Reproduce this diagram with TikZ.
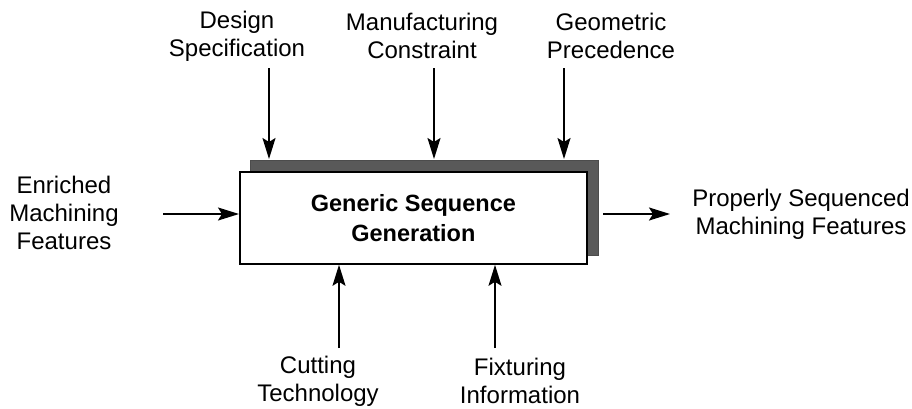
\documentclass[tikz,border=0pt]{standalone}
\usepackage{fontspec}
\setmainfont{Liberation Sans}
\usetikzlibrary{arrows.meta}
\begin{document}
\begin{tikzpicture}[x=1pt,y=-1pt,
  lbl/.style={align=center,font=\fontsize{24}{28}\selectfont,inner sep=0pt},
  arr/.style={-{Stealth[length=21pt,width=13pt,inset=4pt]},line width=1.8pt},
  box/.style={draw,line width=1.8pt,fill=white,minimum width=347pt,minimum height=92pt,inner sep=0pt},
  shadow/.style={fill=black!65,draw=black!70,line width=0.5pt}]
\useasboundingbox (0,0) rectangle (912,408);
\fill[shadow] (250,160) rectangle (598,255);
\node[box,anchor=north west,font=\bfseries\fontsize{23.5}{30}\selectfont,align=center] (g) at (239,171) {Generic Sequence\\Generation};
\node[lbl] (ds) at (237,36) {Design\\Specification};
\node[lbl] (mc) at (422,36) {Manufacturing\\Constraint};
\node[lbl] (gp) at (611,36) {Geometric\\Precedence};
\node[lbl] (em) at (64,213) {Enriched\\Machining\\Features};
\node[lbl] (ps) at (801,214) {Properly Sequenced\\Machining Features};
\node[lbl] (ct) at (318,381) {Cutting\\Technology};
\node[lbl] (fi) at (520,381) {Fixturing\\Information};
\coordinate (t1) at (269,68); \coordinate (t1e) at (269,159);
\coordinate (t2) at (434,68); \coordinate (t2e) at (434,159);
\coordinate (t3) at (564,68); \coordinate (t3e) at (564,159);
\draw[arr] (t1) -- (t1e);
\draw[arr] (t2) -- (t2e);
\draw[arr] (t3) -- (t3e);
\coordinate (b1) at (339,348); \coordinate (b2) at (495,348);
\draw[arr] (b1) -- (b1|-g.south);
\draw[arr] (b2) -- (b2|-g.south);
\coordinate (l1) at (163,214);
\draw[arr] (l1) -- (g.west|-l1);
\coordinate (r0) at (603,214);
\coordinate (r1) at (670,214);
\draw[arr] (r0) -- (r1);
\end{tikzpicture}
\end{document}
